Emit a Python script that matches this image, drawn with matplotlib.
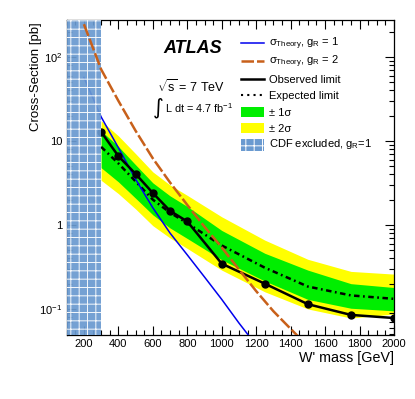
import matplotlib
matplotlib.use("Agg")
import matplotlib.pyplot as plt
from matplotlib.patches import Rectangle
from matplotlib.lines import Line2D
from matplotlib.ticker import FixedLocator, LogLocator, NullFormatter, MultipleLocator

plt.rcParams['font.family'] = ['Liberation Sans', 'DejaVu Sans']
plt.rcParams['mathtext.fontset'] = 'custom'
plt.rcParams['mathtext.rm'] = 'Liberation Sans'
plt.rcParams['mathtext.it'] = 'Liberation Sans:italic'
plt.rcParams['mathtext.bf'] = 'Liberation Sans:bold'
plt.rcParams['hatch.color'] = 'white'
plt.rcParams['hatch.linewidth'] = 0.7

# ---------------- data ----------------
mass = [300, 400, 500, 600, 700, 800, 1000, 1250, 1500, 1750, 2000]
observed = [12.8, 6.6, 4.05, 2.4, 1.47, 1.1, 0.346, 0.20, 0.114, 0.085, 0.078]
expected = [8.5, 5.4, 3.3, 2.0, 1.4, 1.05, 0.57, 0.31, 0.185, 0.145, 0.132]
plus1 = [13.2, 8.6, 5.2, 3.17, 2.22, 1.66, 0.86, 0.46, 0.29, 0.20, 0.18]
minus1 = [4.8, 3.26, 2.08, 1.32, 0.92, 0.69, 0.385, 0.215, 0.13, 0.102, 0.095]
plus2 = [17.4, 11.5, 7.05, 4.28, 2.99, 2.25, 1.25, 0.66, 0.39, 0.28, 0.26]
minus2 = [3.4, 2.36, 1.55, 0.98, 0.70, 0.525, 0.29, 0.16, 0.10, 0.078, 0.087]

theory_mass = [200, 300, 400, 500, 600, 700, 800, 900, 1000, 1100, 1200, 1300, 1400, 1500]
theory_g1 = [57, 19.3, 8.3, 3.5, 1.6, 0.80, 0.44, 0.24, 0.13, 0.068, 0.037, 0.02, 0.011, 0.006]
theory_g2 = [245, 71, 30, 13.2, 6.2, 3.2, 1.73, 0.95, 0.54, 0.295, 0.163, 0.094, 0.058, 0.036]

cdf_range = [100, 300]

xticks = [200, 400, 600, 800, 1000, 1200, 1400, 1600, 1800, 2000]
yticks = [0.1, 1, 10, 100]
yticklabels = ['$10^{-1}$', '1', '10', '$10^{2}$']

# ---------------- figure ----------------
W, H = 415, 399
fig = plt.figure(figsize=(W / 100, H / 100), dpi=100)
L, R, T, B = 66.7, 394, 20, 335
ax = fig.add_axes([L / W, (H - B) / H, (R - L) / W, (B - T) / H])

YEL = '#ffff00'
GRN = '#00ee00'
BLUE = '#0000ee'
ORANGE = '#c8601a'
CDF = '#6a9ad0'
EXP_LS = (0, (2.2, 1.4, 0.7, 1.4))

ax.fill_between(mass, minus2, plus2, color=YEL, lw=0, zorder=1)
ax.fill_between(mass, minus1, plus1, color=GRN, lw=0, zorder=2)
ax.plot(mass, expected, color='black', lw=1.8, ls=EXP_LS, zorder=3)
ax.plot(theory_mass, theory_g1, color=BLUE, lw=1.1, zorder=4)
ax.plot(mass, observed, color='black', lw=1.8, marker='o', ms=5, zorder=5)
ax.add_patch(Rectangle((cdf_range[0], 0.01), cdf_range[1] - cdf_range[0], 1e4,
                       facecolor=CDF, edgecolor='white', hatch='++', lw=0,
                       alpha=0.93, zorder=6))
ax.plot(theory_mass, theory_g2, color=ORANGE, lw=1.8, ls=(0, (5, 1.2)), zorder=7)

ax.set_yscale('log')
ax.set_xlim(100, 2000)
ax.set_ylim(0.049, 275)

ax.xaxis.set_major_locator(FixedLocator(xticks))
ax.xaxis.set_minor_locator(MultipleLocator(50))
ax.set_xticklabels([str(v) for v in xticks])
ax.yaxis.set_major_locator(FixedLocator(yticks))
ax.set_yticklabels(yticklabels)
ax.yaxis.set_minor_locator(LogLocator(base=10, subs=range(2, 10)))
ax.yaxis.set_minor_formatter(NullFormatter())

ax.tick_params(which='both', direction='in', top=True, right=True, width=0.8,
               labelsize=8, pad=3)
ax.tick_params(which='major', length=6.5)
ax.tick_params(which='minor', length=3.3)
for s in ax.spines.values():
    s.set_linewidth(0.9)

fig.text(R / W, 1 - 358 / H, "W' mass [GeV]", ha='right', va='center', fontsize=10.3)
fig.text(36 / W, 1 - 22 / H, "Cross-Section [pb]", ha='center', va='top',
         rotation=90, fontsize=9.5)

# annotations
fig.text(163 / W, 1 - 53.3 / H, 'ATLAS', fontsize=13, fontweight='bold',
         fontstyle='italic', ha='left', va='baseline')
fig.text(157 / W, 1 - 92 / H, r'$\sqrt{\rm s}$ = 7 TeV', fontsize=9,
         ha='left', va='baseline')
fig.text(153 / W, 1 - 108 / H, '\u222b', fontsize=15, ha='left', va='center',
         family=['DejaVu Sans'])
fig.text(165 / W, 1 - 113 / H, 'L dt = 4.7 fb$^{-1}$', fontsize=7.8,
         ha='left', va='baseline')

# legend (manual)
x0, x1, xt = 241 / W, 264 / W, 269 / W
def fy(p):
    return 1 - p / H

fig.add_artist(Line2D([x0, x1], [fy(43.3)] * 2, color=BLUE, lw=1.1))
fig.add_artist(Line2D([x0, x1], [fy(61)] * 2, color=ORANGE, lw=1.8, ls=(0, (5, 1.2))))
fig.add_artist(Line2D([x0, x1], [fy(78.7)] * 2, color='black', lw=1.8))
fig.add_artist(Line2D([x0, x1], [fy(95)] * 2, color='black', lw=1.5, ls=(0, (1, 2))))
fig.add_artist(Rectangle((x0, fy(117.3)), x1 - x0, (117.3 - 106.7) / H,
                         transform=fig.transFigure, facecolor=GRN, lw=0))
fig.add_artist(Rectangle((x0, fy(132.7)), x1 - x0, (132.7 - 122.7) / H,
                         transform=fig.transFigure, facecolor=YEL, lw=0))
fig.add_artist(Rectangle((x0, fy(151)), x1 - x0, (151 - 139) / H,
                         transform=fig.transFigure, facecolor=CDF, edgecolor='white',
                         hatch='++', lw=0))

lfs = 8
fig.text(xt, fy(46.5), r'σ$_{\rm Theory}$, g$_{\rm R}$ = 1', fontsize=lfs, va='baseline')
fig.text(xt, fy(64), r'σ$_{\rm Theory}$, g$_{\rm R}$ = 2', fontsize=lfs, va='baseline')
fig.text(xt, fy(83), 'Observed limit', fontsize=lfs, va='baseline')
fig.text(xt, fy(99), 'Expected limit', fontsize=lfs, va='baseline')
fig.text(xt, fy(115.7), '± 1σ', fontsize=lfs, va='baseline')
fig.text(xt, fy(131.7), '± 2σ', fontsize=lfs, va='baseline')
fig.text(xt, fy(147.3), r'CDF excluded, g$_{\rm R}$=1', fontsize=lfs, va='baseline')

fig.savefig('out.png', dpi=100)
